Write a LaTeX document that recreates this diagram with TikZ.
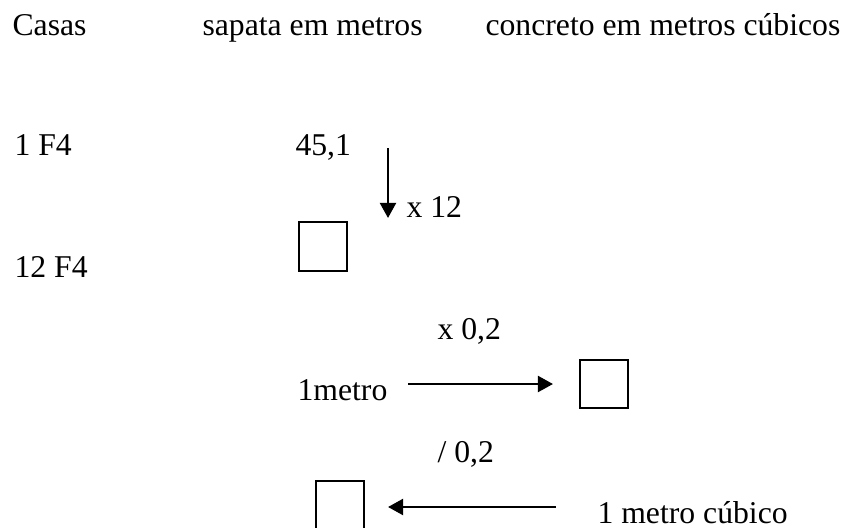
\documentclass[tikz,border=0pt]{standalone}
\usepackage{fontspec}
\setmainfont{Liberation Serif}
\usetikzlibrary{arrows.meta}

\begin{document}
\begin{tikzpicture}[x=0.3785pt,y=-0.3785pt,
  txt/.style={anchor=base west,inner sep=0pt,font=\fontsize{12}{14}\selectfont},
  blank/.style={draw,line width=0.75pt,inner sep=0pt,minimum size=18.3pt},
  arr/.style={line width=1pt,-{Triangle[length=5.7pt,width=6pt]}}]
\path[use as bounding box] (0,0) rectangle (845,527);
% column heads
\node[txt] (casas) at (12,36) {Casas};
\node[txt] (sapata) at (202,36) {sapata em metros};
\node[txt] (concreto) at (485,36) {concreto em metros cúbicos};
% rows
\node[txt] (f1) at (14,155) {1 F4};
\node[txt] (f12) at (14,277) {12 F4};
\node[txt] (val) at (295,155) {45,1};
\node[blank] (sqa) at (323,246.5) {};
\node[txt] (times12) at (406,217) {x 12};
\coordinate (dtop) at (388,148);
\coordinate (dtip) at (388,218);
\draw[arr] (dtop) -- (dtip);
% conversion metro -> metro cubico
\node[txt] (times02) at (437,339) {x 0,2};
\node[txt] (metro) at (297,400) {1metro};
\node[blank] (sqb) at (604,384) {};
\coordinate (rtail) at (408,384);
\coordinate (rtip) at (553,384);
\draw[arr] (rtail) -- (rtip);
% conversion metro cubico -> metro
\node[txt] (div02) at (437,462) {/ 0,2};
\node[blank] (sqc) at (340,505) {};
\node[txt] (cubico) at (597,523) {1 metro cúbico};
\coordinate (ltail) at (556,507);
\coordinate (ltip) at (388,507);
\draw[arr] (ltail) -- (ltip);
\end{tikzpicture}
\end{document}
